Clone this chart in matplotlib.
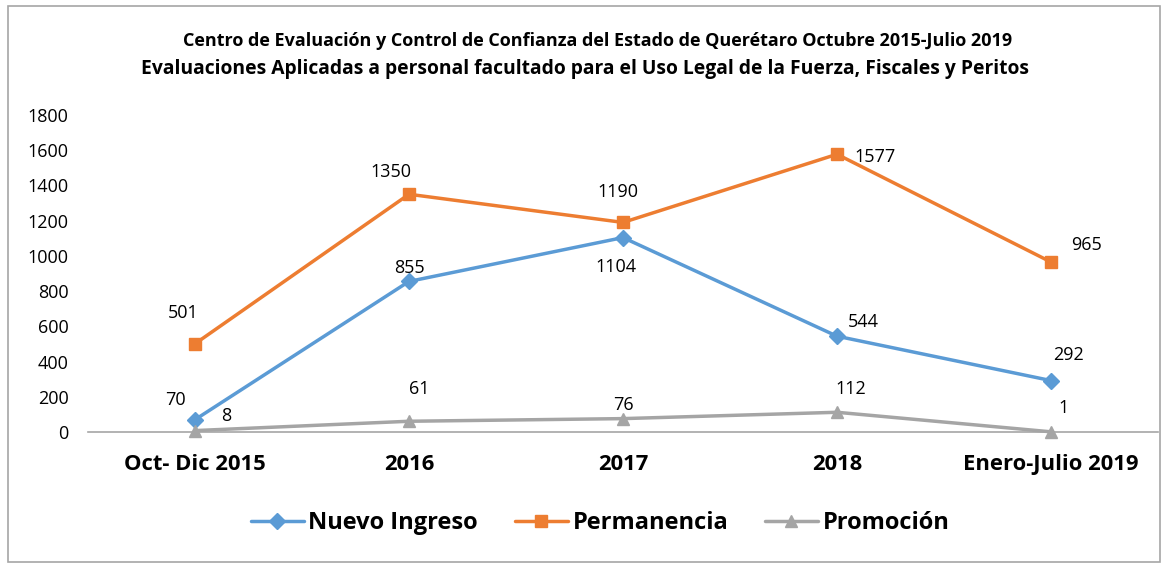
import matplotlib
matplotlib.use("Agg")
import matplotlib.pyplot as plt
from matplotlib.patches import Rectangle

categories = ["Oct- Dic 2015", "2016", "2017", "2018", "Enero-Julio 2019"]
nuevo_ingreso = [70, 855, 1104, 544, 292]
permanencia = [501, 1350, 1190, 1577, 965]
promocion = [8, 61, 76, 112, 1]
y_ticks = [0, 200, 400, 600, 800, 1000, 1200, 1400, 1600, 1800]

title1 = "Centro de Evaluación y Control de Confianza del Estado de Querétaro Octubre 2015-Julio 2019"
title2 = "Evaluaciones Aplicadas a personal facultado para el Uso Legal de la Fuerza, Fiscales y Peritos"

# label offsets in pixels (dx, dy) relative to each point
off_nuevo = [(-20, 20), (0, 13), (-7, -29), (26, 14), (17, 26)]
off_perm = [(-12, 31), (-18, 22), (-5, 30), (38, -3), (35, 17)]
off_promo = [(31, 15), (10, 32), (0, 14), (14, 23), (13, 24)]

plt.rcParams['font.family'] = ['Open Sans', 'DejaVu Sans']

fig = plt.figure(figsize=(11.74, 5.65), dpi=100)
W, H = 1174, 565
ax = fig.add_axes([88 / W, 1 - 432 / H, (1158 - 88) / W, (432 - 115) / H])

x = list(range(len(categories)))
series = [
    ("Nuevo Ingreso", nuevo_ingreso, "#5B9BD5", "D", 8, off_nuevo),
    ("Permanencia", permanencia, "#ED7D31", "s", 9, off_perm),
    ("Promoción", promocion, "#A5A5A5", "^", 9, off_promo),
]
for name, vals, col, mk, ms, offs in series:
    ax.plot(x, vals, color=col, lw=2.5, marker=mk, markersize=ms, label=name,
            solid_capstyle='round', zorder=3, clip_on=False)
    for xi, v, (dx, dy) in zip(x, vals, offs):
        ax.annotate(str(v), (xi, v), xytext=(dx, dy), textcoords='offset pixels',
                    ha='center', va='center', fontsize=13, color='#000000')

ax.set_xlim(-0.5, len(categories) - 0.5)
ax.set_ylim(0, 1800)
ax.set_yticks(y_ticks)
ax.set_yticklabels([str(t) for t in y_ticks], fontsize=13)
ax.set_xticks(x)
ax.set_xticklabels(categories, fontsize=15.8, fontweight='bold')
ax.tick_params(axis='both', length=0)
ax.tick_params(axis='y', pad=14)
ax.tick_params(axis='x', pad=16)
for s in ['top', 'right', 'left']:
    ax.spines[s].set_visible(False)
ax.spines['bottom'].set_color('#A6A6A6')
ax.spines['bottom'].set_linewidth(1.2)

fig.text(598 / W, 1 - 41 / H, title1, ha='center', va='center', fontsize=13, fontweight='bold')
fig.text(585 / W, 1 - 69 / H, title2, ha='center', va='center', fontsize=13.9, fontweight='bold')

leg = fig.legend(loc='center', bbox_to_anchor=(600 / W, 1 - 523 / H), ncol=3, frameon=False,
                 prop={'size': 17, 'weight': 'bold'}, handlelength=2.25, columnspacing=1.55,
                 handletextpad=0.2)

fig.patches.append(Rectangle((8 / W, 1 - 562 / H), (1160 - 8) / W, (562 - 6) / H,
                             transform=fig.transFigure, fill=False, edgecolor='#A6A6A6', lw=1.2))

fig.savefig("out.png", dpi=100)
